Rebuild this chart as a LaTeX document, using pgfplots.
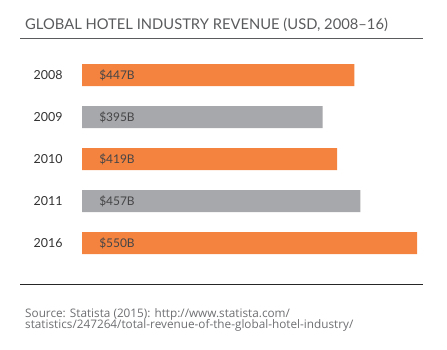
\documentclass[border=0pt]{standalone}
\usepackage{pgfplots}
\pgfplotsset{compat=1.18}
\usepackage{fontspec}
\setmainfont{Lato}
\newfontfamily\srcfont{Open Sans}
\definecolor{barorange}{HTML}{F4833F}
\definecolor{bargray}{HTML}{A7A8AB}
\definecolor{titlegray}{HTML}{5A5B5D}
\definecolor{labeltext}{HTML}{454547}
\definecolor{srcgray}{HTML}{6D6E71}
\begin{document}
\begin{tikzpicture}[x=1bp,y=1bp]
\path[use as bounding box] (0,0) rectangle (447,349);
\node[anchor=base west, font=\fontsize{14.8}{17}\selectfont, text=titlegray, inner sep=0] at (25,320) {GLOBAL HOTEL INDUSTRY REVENUE (USD, 2008--16)};
\draw[titlegray, line width=1.5bp] (20,310.5) -- (423,310.5);
\draw[black!85, line width=1bp] (20,64.5) -- (423,64.5);
\node[anchor=base west, font=\srcfont\fontsize{11.8}{13}\selectfont, text=srcgray, inner sep=0, align=left] at (25,32) {Source: Statista (2015): http://www.statista.com/};
\node[anchor=base west, font=\srcfont\fontsize{11.8}{13}\selectfont, text=srcgray, inner sep=0, align=left] at (25,20.3) {statistics/247264/total-revenue-of-the-global-hotel-industry/};
\begin{axis}[
  at={(82bp,85bp)}, anchor=south west,
  scale only axis, width=335bp, height=210bp,
  xmin=0, xmax=550, ymin=-0.5, ymax=4.5,
  y dir=reverse,
  xbar, bar width=22bp, bar shift=0pt,
  axis line style={draw=none},
  major tick length=0pt,
  xtick=\empty,
  ytick={0,1,2,3,4},
  yticklabels={2008,2009,2010,2011,2016},
  yticklabel style={font=\fontsize{12.5}{14}\selectfont, text=black!80, anchor=east},
  yticklabel shift=16bp,
  clip=false,
]
\addplot[draw=none, fill=barorange] coordinates {(447,0) (419,2) (550,4)};
\addplot[draw=none, fill=bargray] coordinates {(395,1) (457,3)};
\node[anchor=west, font=\fontsize{12}{14}\selectfont, text=labeltext, inner sep=0] at (axis cs:28,0) {\$447B};
\node[anchor=west, font=\fontsize{12}{14}\selectfont, text=labeltext, inner sep=0] at (axis cs:28,1) {\$395B};
\node[anchor=west, font=\fontsize{12}{14}\selectfont, text=labeltext, inner sep=0] at (axis cs:28,2) {\$419B};
\node[anchor=west, font=\fontsize{12}{14}\selectfont, text=labeltext, inner sep=0] at (axis cs:28,3) {\$457B};
\node[anchor=west, font=\fontsize{12}{14}\selectfont, text=labeltext, inner sep=0] at (axis cs:28,4) {\$550B};
\end{axis}
\end{tikzpicture}
\end{document}
